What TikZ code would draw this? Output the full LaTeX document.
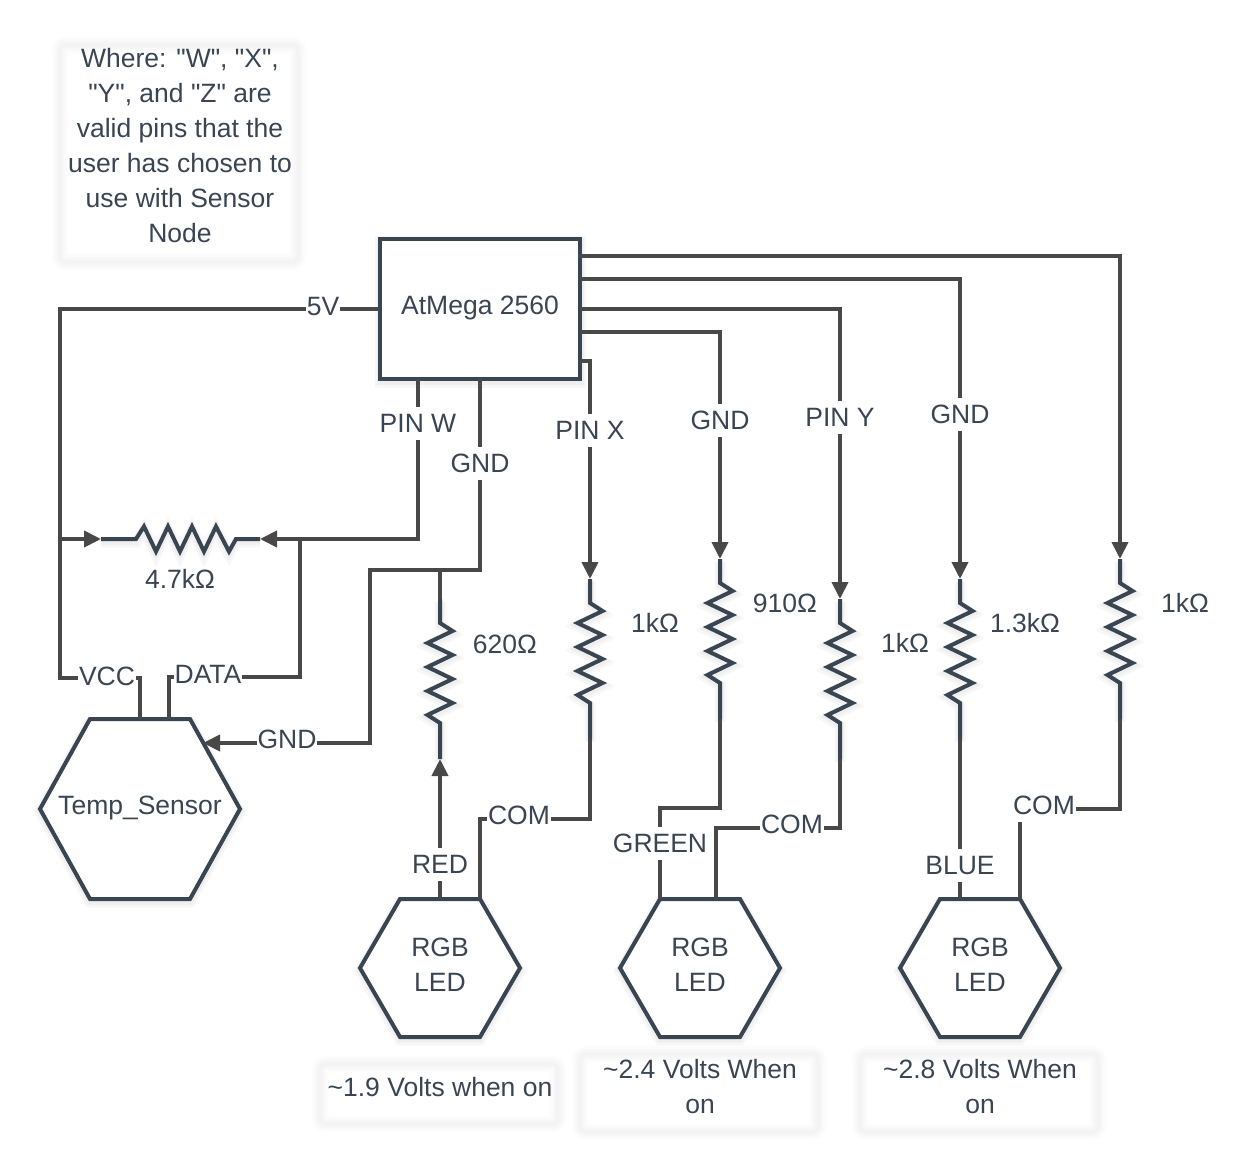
\documentclass[tikz,border=0pt]{standalone}
\usepackage{fontspec}
\setmainfont{Liberation Sans}
\newfontfamily\labelfont[Mapping=none,Ligatures=ResetAll]{Liberation Sans}
\usetikzlibrary{arrows.meta}
\definecolor{wirec}{HTML}{484848}
\definecolor{shapec}{HTML}{3A4552}
\definecolor{textc}{HTML}{3A4553}
\tikzset{
  wire/.style={draw=wirec,line width=3.9pt,line join=miter},
  ahead/.style={-{Triangle[length=17pt,width=16pt,fill=wirec]}},
  rleg/.style={draw=shapec,line width=4pt,line join=miter},
  softline/.style={preaction={draw=black,opacity=.03,line width=11pt,transform canvas={yshift=-3pt}},
                   preaction={draw=black,opacity=.03,line width=7pt,transform canvas={yshift=-2pt}}},
  solid shape/.style={draw=shapec,line width=4pt,fill=white,line join=miter,
                   preaction={draw=black,opacity=.03,line width=11pt,transform canvas={yshift=-3pt}},
                   preaction={draw=black,opacity=.03,line width=7pt,transform canvas={yshift=-2pt}}},
  txt/.style={text=textc,font=\labelfont\fontsize{26.5}{35}\selectfont,align=center,inner sep=0pt},
  lab/.style={txt,fill=white,text height=19pt,text depth=0pt,inner xsep=1pt,inner ysep=7pt},
  plain/.style={txt,text height=19pt,text depth=0pt},
}
\newcommand{\softrect}[4]{%
  \foreach \w in {17,14,11,8,5,2}{%
    \draw[black,opacity=.009,line width=\w pt,rounded corners=6pt] (#1,#2) rectangle (#3,#4);
  }%
}
% vertical resistor: name, x, y of the first bend
\newcommand{\vres}[3]{%
  \coordinate (#1-in) at (#2,#3-24);
  \coordinate (#1-out) at (#2,#3+136);
  \draw[rleg,softline] (#1-in) -- (#2,#3) -- (#2+12.5,#3+8) -- (#2-12.5,#3+20) -- (#2+12.5,#3+32)
    -- (#2-12.5,#3+44) -- (#2+12.5,#3+56) -- (#2-12.5,#3+68) -- (#2+12.5,#3+80) -- (#2-12.5,#3+92)
    -- (#2,#3+100) -- (#1-out);
}
% hexagon: name, centre x, centre y, half width, half top edge, half height
\newcommand{\hexa}[6]{%
  \coordinate (#1-tl) at (#2-#5,#3-#6);
  \coordinate (#1-tr) at (#2+#5,#3-#6);
  \draw[solid shape] (#1-tl) -- (#1-tr) -- (#2+#4,#3) -- (#2+#5,#3+#6) -- (#2-#5,#3+#6) -- (#2-#4,#3) -- cycle;
}
\begin{document}
\begin{tikzpicture}[x=1pt,y=-1pt]
\useasboundingbox (0,0) rectangle (1253,1169);

% soft note backgrounds
\softrect{60}{45}{298}{262}
\softrect{320}{1064}{558}{1124}
\softrect{580}{1054}{818}{1132}
\softrect{860}{1054}{1098}{1132}

% resistors
\vres{rr}{440}{623}
\vres{rx}{590}{603}
\vres{rg}{720}{583}
\vres{ry}{840}{623}
\vres{rb}{960}{603}
\vres{rz}{1120}{583}
\coordinate (rh-in) at (101,539);
\coordinate (rh-out) at (260,539);
\draw[rleg,softline] (rh-in) -- (136,539) -- (144,526.5) -- (156,551.5) -- (168,526.5) -- (180,551.5)
  -- (192,526.5) -- (204,551.5) -- (216,526.5) -- (229,551.5) -- (236,539) -- (rh-out);

% main controller and hexagons
\node[solid shape,minimum width=200pt,minimum height=140pt,inner sep=0pt] (mega) at (480,309) {};
\hexa{temp}{140}{809}{100}{50}{90}
\hexa{ledr}{440}{968}{80}{40}{69}
\hexa{ledg}{700}{968}{80}{40}{69}
\hexa{ledb}{980}{968}{80}{40}{69}

% ports
\coordinate (p5v) at (mega.west);
\coordinate (pw) at (418,379);
\coordinate (pgnd) at (480,379);
\coordinate (px) at (580,361);
\coordinate (pg) at (580,332);
\coordinate (py) at (580,309);
\coordinate (pb) at (580,279);
\coordinate (pz) at (580,256);
\coordinate (vcc) at (140,719);
\coordinate (data) at (169,719);
\coordinate (tempgnd) at (203,743);
\coordinate (jleft) at (60,539);
\coordinate (jdata) at (300,539);
\coordinate (jred) at (440,570);
\coordinate (rrtop) at (440,600);

% connectors
\draw[wire] (p5v) -- (60,309) -- (60,678) -- (140,678) -- (vcc);
\draw[wire,ahead] (jleft) -- (rh-in);
\draw[wire,ahead] (pw) -- (418,539) -- (rh-out);
\draw[wire] (jdata) -- (300,677) -- (169,677) -- (data);
\draw[wire,ahead] (pgnd) -- (480,570) -- (370,570) -- (370,743) -- (tempgnd);
\draw[wire] (jred) -- (rrtop);
\draw[wire,ahead] (ledr-tl -| jred) -- (rr-out);
\draw[wire] (rx-out) -- (590,819) -- (480,819) -- (ledr-tr);
\draw[wire,ahead] (px) -- (590,361) -- (rx-in);
\draw[wire,ahead] (pg) -- (720,332) -- (rg-in);
\draw[wire] (rg-out) -- (720,808) -- (660,808) -- (ledg-tl);
\draw[wire,ahead] (py) -- (840,309) -- (ry-in);
\draw[wire] (ry-out) -- (840,828) -- (716,828) -- (716,899);
\draw[wire,ahead] (pb) -- (960,279) -- (rb-in);
\draw[wire] (rb-out) -- (960,899);
\draw[wire,ahead] (pz) -- (1120,256) -- (rz-in);
\draw[wire] (rz-out) -- (1120,809) -- (1020,809) -- (ledb-tr);

% connector labels
\node[lab] (l5v) at (323,306) {5V};
\node[lab] (lvcc) at (107,676) {VCC};
\node[lab] (ldata) at (208,674) {DATA};
\node[lab] (lgndt) at (287,739) {GND};
\node[lab] (lpinw) at (418,423) {PIN W};
\node[lab] (lgnd1) at (480,463) {GND};
\node[lab] (lpinx) at (590,430) {PIN X};
\node[lab] (lgnd2) at (720,420) {GND};
\node[lab] (lpiny) at (840,417) {PIN Y};
\node[lab] (lgnd3) at (960,414) {GND};
\node[lab] (lred) at (440,864) {RED};
\node[lab] (lcom1) at (519,815) {COM};
\node[lab] (lgreen) at (660,843) {GREEN};
\node[lab] (lcom2) at (792,824) {COM};
\node[lab] (lblue) at (960,865) {BLUE};
\node[lab] (lcom3) at (1044,805) {COM};

% resistor values
\node[plain] (v47) at (180,579) {4.7kΩ};
\node[plain] (v620) at (505,644) {620Ω};
\node[plain] (v1a) at (655,623) {1kΩ};
\node[plain] (v910) at (785,603) {910Ω};
\node[plain] (v1b) at (905,643) {1kΩ};
\node[plain] (v13) at (1025,623) {1.3kΩ};
\node[plain] (v1c) at (1185,603) {1kΩ};

% shape texts
\node[plain] (tmega) at (480,305) {AtMega 2560};
\node[plain] (ttemp) at (140,805) {Temp\_Sensor};
\node[txt] (tledr) at (440,964.5) {RGB\\LED};
\node[txt] (tledg) at (700,964.5) {RGB\\LED};
\node[txt] (tledb) at (980,964.5) {RGB\\LED};

% notes
\node[txt] (note1) at (180,145.5) {Where: "W", "X",\\"Y", and "Z" are\\valid pins that the\\user has chosen to\\use with Sensor\\Node};
\node[txt] (note2) at (440,1087) {\textasciitilde 1.9 Volts when on};
\node[txt] (note3) at (700,1086.5) {\textasciitilde 2.4 Volts When\\on};
\node[txt] (note4) at (980,1086.5) {\textasciitilde 2.8 Volts When\\on};
\end{tikzpicture}
\end{document}
